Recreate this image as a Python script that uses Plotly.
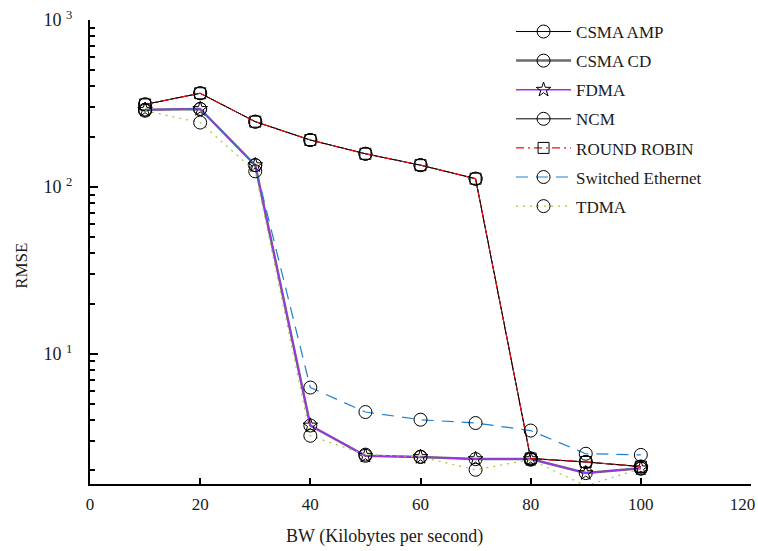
import plotly.graph_objects as go
import numpy as np

bw = [10, 20, 30, 40, 50, 60, 70, 80, 90, 100]
csma_amp = [312, 364, 246, 191, 158, 135, 112, 2.36, 2.25, 2.11]
csma_cd = [290, 293, 135, 3.72, 2.45, 2.41, 2.34, 2.34, 1.93, 2.06]
fdma = [290, 293, 135, 3.72, 2.45, 2.41, 2.34, 2.34, 1.93, 2.06]
ncm = [312, 364, 246, 191, 158, 135, 112, 2.36, 2.25, 2.11]
round_robin = [312, 364, 246, 191, 158, 135, 112, 2.36, 2.25, 2.11]
switched_eth = [290, 293, 135, 6.28, 4.48, 4.03, 3.85, 3.47, 2.52, 2.48]
tdma = [286, 243, 124, 3.23, 2.49, 2.42, 2.02, 2.32, 1.62, 2.05]

series_names = ["CSMA AMP", "CSMA CD", "FDMA", "NCM", "ROUND ROBIN",
                "Switched Ethernet", "TDMA"]
x_ticks = [0, 20, 40, 60, 80, 100, 120]
x_ticktext = ["0", "20", "40", "60", "80", "100", "120&nbsp;&nbsp;&nbsp;&nbsp;"]
y_ticks = [10, 100, 1000]
y_ticktext = ["10 <sup>1</sup>", "10 <sup>2</sup>", "10 <sup>3</sup>"]

FONT = "Liberation Serif"
TXT = "#1a1a1a"

styles = [
    dict(color="#000000", width=1, dash="solid", symbol="circle-open", size=13),
    dict(color="#6b6b6b", width=2.5, dash="solid", symbol="circle-open", size=13),
    dict(color="#a030f0", width=1.5, dash="solid", symbol="star-open", size=11),
    dict(color="#000000", width=1, dash="solid", symbol="circle-open", size=13),
    dict(color="#ee1111", width=1.2, dash="8px,4px,2px,4px", symbol="square-open", size=11),
    dict(color="#1f7fd0", width=1.2, dash="12px,8px", symbol="circle-open", size=13),
    dict(color="#9acd32", width=1.2, dash="2px,5px", symbol="circle-open", size=13),
]
data = [csma_amp, csma_cd, fdma, ncm, round_robin, switched_eth, tdma]

fig = go.Figure()
for name, ys, st in zip(series_names, data, styles):
    fig.add_trace(go.Scatter(
        x=bw, y=ys, name=name, mode="lines+markers",
        legendgroup=name,
        line=dict(color=st["color"], width=st["width"], dash=st["dash"]),
        marker=dict(symbol=st["symbol"], size=st["size"], color="#000000",
                    line=dict(color="#000000", width=1)),
        cliponaxis=False,
    ))

minor_vals = [m * 10 ** e for e in range(0, 3) for m in range(2, 10)]
minor_vals = [v for v in minor_vals if v > 1.66]

fig.update_layout(
    width=758, height=551,
    margin=dict(l=90, r=7, t=20, b=67, autoexpand=False),
    paper_bgcolor="white", plot_bgcolor="white",
    font=dict(family=FONT, size=16, color=TXT),
    showlegend=True,
    legend=dict(x=0.637, y=1.013, xanchor="left", yanchor="top",
                bgcolor="rgba(0,0,0,0)", borderwidth=0,
                font=dict(family=FONT, size=17, color=TXT),
                tracegroupgap=4, itemwidth=55, traceorder="grouped"),
    xaxis=dict(range=[0, 120], tickvals=x_ticks, ticktext=x_ticktext,
               ticks="inside", ticklen=6,
               tickwidth=1.5, tickcolor="black", showline=True, linecolor="black",
               linewidth=2, showgrid=False, zeroline=False, mirror=False,
               ticklabeloverflow="allow", ticklabelstandoff=4, automargin=False,
               tickfont=dict(family=FONT, size=17, color=TXT)),
    yaxis=dict(type="log", range=[np.log10(1.66), 3], tickvals=y_ticks,
               ticktext=y_ticktext, ticks="inside", ticklen=8, tickwidth=1.5,
               tickcolor="black", showline=True, linecolor="black", linewidth=2,
               showgrid=False, zeroline=False, mirror=False,
               ticklabelstandoff=12, automargin=False,
               tickfont=dict(family=FONT, size=18, color=TXT),
               minor=dict(tickvals=minor_vals, ticks="inside", ticklen=5,
                          tickwidth=1.5, tickcolor="black", showgrid=False)),
    annotations=[
        dict(text="BW (Kilobytes per second)", xref="paper", yref="paper",
             x=0.446, y=-0.114, xanchor="center", yanchor="middle",
             showarrow=False, font=dict(family=FONT, size=18, color=TXT)),
        dict(text="RMSE", xref="paper", yref="paper", x=-0.103, y=0.47,
             xanchor="center", yanchor="middle", textangle=-90,
             showarrow=False, font=dict(family=FONT, size=17, color=TXT)),
    ],
)

fig.write_html("out.html")
